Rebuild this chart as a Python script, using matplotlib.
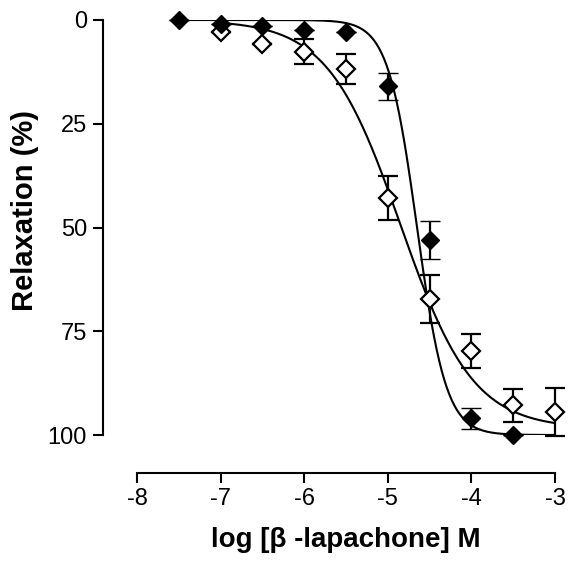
import numpy as np
import matplotlib.pyplot as plt

plt.rcParams['font.family'] = ['Liberation Sans', 'DejaVu Sans']

# data
log_conc_filled = [-7.5, -7.0, -6.5, -6.0, -5.5, -5.0, -4.5, -4.0, -3.5]
relax_filled = [0.0, 1.0, 1.5, 2.5, 3.0, 16.0, 53.0, 96.0, 100.0]
err_filled = [0.0, 0.0, 0.0, 0.0, 0.0, 3.2, 4.6, 2.6, 0.0]

log_conc_open = [-7.0, -6.5, -6.0, -5.5, -5.0, -4.5, -4.0, -3.5, -3.0]
relax_open = [3.0, 5.9, 7.6, 11.8, 43.0, 67.2, 79.8, 92.8, 94.5]
err_open = [0.0, 0.0, 3.0, 3.6, 5.3, 5.8, 4.1, 4.0, 5.8]

x_ticks = [-8, -7, -6, -5, -4, -3]
x_ticklabels = ['-8', '-7', '-6', '-5', '-4', '-3']
y_ticks = [0, 25, 50, 75, 100]

# sigmoid fit parameters (bottom, logEC50, hill slope)
fit_filled = (100.0, -4.65, 2.5)
fit_open = (98.5, -4.85, 1.0)


def sigmoid(x, bottom, logec50, hill):
    return bottom / (1 + 10 ** ((logec50 - x) * hill))


fig = plt.figure(figsize=(5.68, 5.64), dpi=100)
ax = fig.add_axes([137 / 568, 129 / 564, 418 / 568, 415 / 564])

xs = np.linspace(-7.5, -3.0, 300)
ax.plot(xs, sigmoid(xs, *fit_filled), color='black', lw=1.5, zorder=2)
xs2 = np.linspace(-7.0, -3.0, 300)
ax.plot(xs2, sigmoid(xs2, *fit_open), color='black', lw=1.5, zorder=2)

ax.errorbar(log_conc_open, relax_open, yerr=err_open, fmt='D', ms=9.5,
            mfc='white', mec='black', mew=1.6, ecolor='black', elinewidth=1.6,
            capsize=7, capthick=1.6, zorder=3, clip_on=False)
ax.errorbar(log_conc_filled, relax_filled, yerr=err_filled, fmt='D', ms=9.5,
            mfc='black', mec='black', mew=1.0, ecolor='black', elinewidth=1.6,
            capsize=7, capthick=1.6, zorder=4, clip_on=False)

ax.set_xlim(-8, -3)
ax.set_ylim(100, 0)
ax.set_xticks(x_ticks)
ax.set_xticklabels(x_ticklabels)
ax.set_yticks(y_ticks)

for s in ['top', 'right']:
    ax.spines[s].set_visible(False)
ax.spines['left'].set_position(('outward', 24.5))
ax.spines['bottom'].set_position(('outward', 27))
ax.spines['left'].set_bounds(0, 100)
ax.spines['bottom'].set_bounds(-8, -3)
for s in ['left', 'bottom']:
    ax.spines[s].set_linewidth(1.5)
ax.tick_params(width=1.5, length=7.5, labelsize=17, pad=4)

ax.set_xlabel('log [β -lapachone] M', fontsize=20, fontweight='bold', labelpad=12)
ax.set_ylabel('Relaxation (%)', fontsize=21, fontweight='bold')
ax.yaxis.set_label_coords(-0.235, 0.54)

fig.savefig('out.png', dpi=100)
